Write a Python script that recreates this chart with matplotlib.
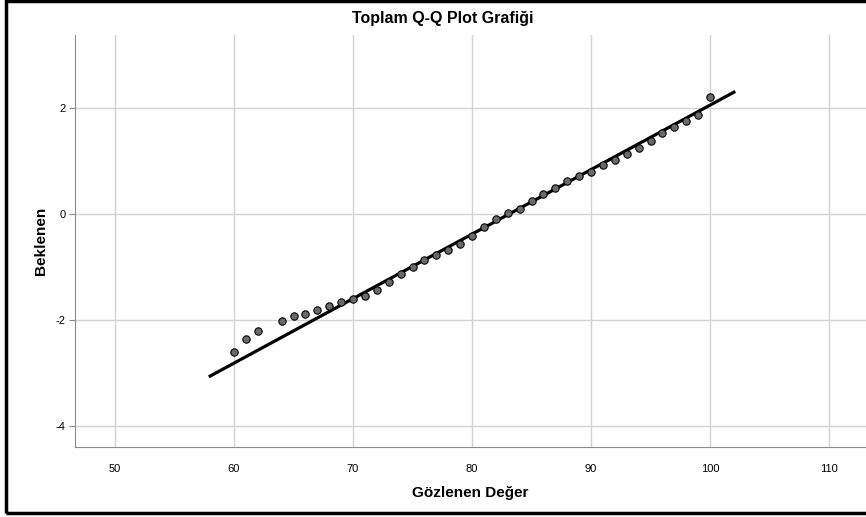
import matplotlib.pyplot as plt
from matplotlib.patches import Rectangle

plt.rcParams["font.family"] = ["Liberation Sans", "DejaVu Sans"]
plt.rcParams["axes.unicode_minus"] = False

# observed values and their expected normal quantiles
observed = [60, 61, 62, 64, 65, 66, 67, 68, 69, 70, 71, 72, 73, 74, 75, 76, 77,
            78, 79, 80, 81, 82, 83, 84, 85, 86, 87, 88, 89, 90, 91, 92, 93, 94,
            95, 96, 97, 98, 99, 100]
expected = [-2.60, -2.36, -2.21, -2.02, -1.92, -1.88, -1.81, -1.74, -1.67, -1.60,
            -1.55, -1.43, -1.29, -1.14, -1.01, -0.87, -0.77, -0.68, -0.56, -0.42,
            -0.24, -0.09, 0.01, 0.10, 0.25, 0.38, 0.50, 0.62, 0.71, 0.80,
            0.92, 1.02, 1.13, 1.25, 1.38, 1.52, 1.65, 1.75, 1.87, 2.21]

# reference line
line_x = [58, 102]
line_y = [-3.06, 2.30]

x_ticks = [50, 60, 70, 80, 90, 100, 110]
y_ticks = [-4, -2, 0, 2]

fig = plt.figure(figsize=(8.66, 5.17), dpi=100)
ax = fig.add_axes([75 / 866, 70 / 517, 1 - 75 / 866, 412 / 517])

ax.plot(line_x, line_y, color="black", lw=2.3, zorder=3)
ax.scatter(observed, expected, s=28, color="#6a6a6a", edgecolor="black",
           linewidths=0.8, zorder=4)

ax.set_xlim(46.64, 113.1)
ax.set_ylim(-4.40, 3.38)
ax.set_xticks(x_ticks)
ax.set_yticks(y_ticks)
ax.grid(True, color="#d2d2d2", lw=1)
ax.set_axisbelow(True)
for side in ["top", "right"]:
    ax.spines[side].set_visible(False)
for side in ["left", "bottom"]:
    ax.spines[side].set_color("#8c8c8c")
ax.tick_params(axis="y", length=4, color="#8c8c8c", labelsize=8, pad=3)
ax.tick_params(axis="x", length=0, labelsize=8, pad=12)

ax.set_xlabel("Gözlenen Değer", fontsize=11, fontweight="bold", labelpad=9)
ax.set_ylabel("Beklenen", fontsize=11, fontweight="bold", labelpad=5)
fig.text(443 / 866, 1 - 18 / 517, "Toplam Q-Q Plot Grafiği", fontsize=11.5,
         fontweight="bold", ha="center", va="center")

fig.patches.append(Rectangle((5.5 / 866, 4 / 517), 1.05, 512 / 517,
                             transform=fig.transFigure, fill=False,
                             edgecolor="black", lw=2.5, clip_on=False))

plt.savefig("out.png", dpi=100)
